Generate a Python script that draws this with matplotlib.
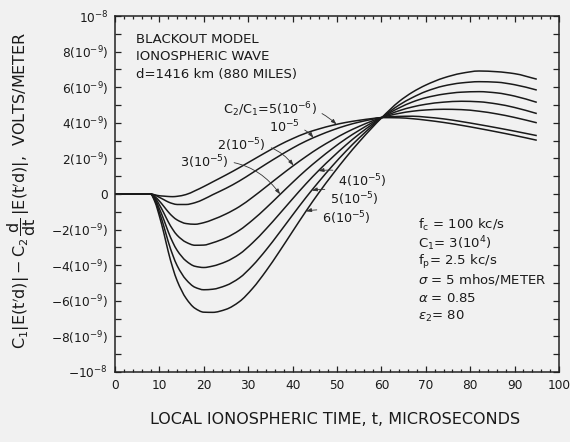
import numpy as np
import matplotlib
matplotlib.use("Agg")
import matplotlib.pyplot as plt
from matplotlib.ticker import FixedLocator, MultipleLocator
from matplotlib.path import Path
from matplotlib.patches import PathPatch

plt.rcParams['font.family'] = ['DejaVu Sans']
plt.rcParams['mathtext.fontset'] = 'dejavusans'

# time, microseconds
t = [0, 4, 7, 8, 9, 10, 11, 12, 13, 14, 16, 18, 20, 22, 25, 28, 31, 34, 37, 40,
     43, 46, 49, 52, 55, 58, 60, 64, 67, 70, 74, 78, 82, 86, 90, 95]

# values in units of 1e-9 V/m, one curve per C2/C1 ratio
c_5e6 = [0, 0, 0, 0, -0.05, -0.10, -0.12, -0.14, -0.15, -0.13, -0.03, 0.18, 0.42, 0.68,
         1.07, 1.48, 1.91, 2.34, 2.75, 3.11, 3.42, 3.66, 3.86, 4.02, 4.14, 4.24, 4.29,
         4.28, 4.23, 4.15, 4.02, 3.86, 3.68, 3.49, 3.29, 3.02]
c_1e5 = [0, 0, 0, 0, -0.07, -0.19, -0.32, -0.45, -0.54, -0.59, -0.59, -0.49, -0.29, -0.04,
         0.32, 0.73, 1.20, 1.68, 2.14, 2.58, 2.97, 3.30, 3.59, 3.84, 4.04, 4.20, 4.30,
         4.36, 4.37, 4.32, 4.22, 4.07, 3.90, 3.72, 3.53, 3.28]
c_2e5 = [0, 0, 0, 0, -0.15, -0.40, -0.70, -1.01, -1.27, -1.46, -1.66, -1.70, -1.61, -1.44,
         -1.12, -0.71, -0.18, 0.40, 0.99, 1.56, 2.10, 2.60, 3.04, 3.45, 3.80, 4.11, 4.29,
         4.53, 4.65, 4.72, 4.76, 4.74, 4.65, 4.50, 4.30, 4.00]
c_3e5 = [0, 0, 0, 0, -0.22, -0.61, -1.07, -1.57, -1.99, -2.32, -2.71, -2.88, -2.87, -2.74,
         -2.46, -2.04, -1.46, -0.79, -0.07, 0.65, 1.34, 1.97, 2.56, 3.10, 3.58, 4.02, 4.28,
         4.68, 4.89, 5.04, 5.16, 5.21, 5.18, 5.06, 4.86, 4.52]
c_4e5 = [0, 0, 0, 0, -0.30, -0.83, -1.45, -2.13, -2.71, -3.17, -3.76, -4.06, -4.13, -4.05,
         -3.80, -3.38, -2.74, -1.97, -1.13, -0.27, 0.57, 1.35, 2.07, 2.75, 3.37, 3.93, 4.28,
         4.84, 5.17, 5.41, 5.61, 5.72, 5.75, 5.68, 5.50, 5.15]
c_5e5 = [0, 0, 0, 0, -0.37, -1.04, -1.82, -2.69, -3.43, -4.03, -4.81, -5.24, -5.38, -5.35,
         -5.14, -4.72, -4.02, -3.15, -2.18, -1.18, -0.20, 0.72, 1.59, 2.40, 3.15, 3.84, 4.27,
         5.00, 5.42, 5.76, 6.07, 6.24, 6.31, 6.28, 6.14, 5.84]
c_6e5 = [0, 0, 0, 0, -0.45, -1.25, -2.20, -3.25, -4.15, -4.88, -5.86, -6.42, -6.64, -6.65,
         -6.48, -6.05, -5.30, -4.33, -3.24, -2.10, -0.97, 0.10, 1.10, 2.05, 2.93, 3.75, 4.27,
         5.20, 5.72, 6.12, 6.52, 6.78, 6.91, 6.87, 6.76, 6.45]

curves = [c_5e6, c_1e5, c_2e5, c_3e5, c_4e5, c_5e5, c_6e5]

ytick_vals = [-10, -8, -6, -4, -2, 0, 2, 4, 6, 8, 10]
ytick_labels = [r"$-$10$^{-8}$", r"$-$8(10$^{-9}$)", r"$-$6(10$^{-9}$)", r"$-$4(10$^{-9}$)",
                r"$-$2(10$^{-9}$)", "0", r"2(10$^{-9}$)", r"4(10$^{-9}$)", r"6(10$^{-9}$)",
                r"8(10$^{-9}$)", r"10$^{-8}$"]
xtick_vals = [0, 10, 20, 30, 40, 50, 60, 70, 80, 90, 100]

# curve labels: text, label position (t, v), arrow time, curve index
curve_labels = [
    (r"C$_2$/C$_1$=5(10$^{-6}$)", 24.3, 4.72, 49.9, 0),
    (r"10$^{-5}$", 34.6, 3.76, 44.7, 1),
    (r"2(10$^{-5}$)", 23.0, 2.75, 40.2, 2),
    (r"3(10$^{-5}$)", 14.6, 1.80, 37.2, 3),
    (r"4(10$^{-5}$)", 50.3, 0.73, 45.8, 4),
    (r"5(10$^{-5}$)", 48.5, -0.28, 44.3, 5),
    (r"6(10$^{-5}$)", 46.7, -1.35, 43.0, 6),
]


def smooth_path(x, y):
    """Bezier path passing through every data point (monotone cubic tangents)."""
    x = np.asarray(x, float)
    y = np.asarray(y, float)
    h = np.diff(x)
    d = np.diff(y) / h
    m = np.zeros_like(y)
    for i in range(1, len(y) - 1):
        if d[i - 1] * d[i] <= 0:
            m[i] = 0.0
        else:
            w1 = 2 * h[i] + h[i - 1]
            w2 = h[i] + 2 * h[i - 1]
            m[i] = (w1 + w2) / (w1 / d[i - 1] + w2 / d[i])
    m[0] = d[0]
    m[-1] = d[-1]
    verts = [(x[0], y[0])]
    codes = [Path.MOVETO]
    for i in range(len(h)):
        verts += [(x[i] + h[i] / 3, y[i] + m[i] * h[i] / 3),
                  (x[i + 1] - h[i] / 3, y[i + 1] - m[i + 1] * h[i] / 3),
                  (x[i + 1], y[i + 1])]
        codes += [Path.CURVE4] * 3
    return Path(verts, codes)


bg = '#f1f1f1'
ink = '#1a1a1a'
fig = plt.figure(figsize=(5.70, 4.42), dpi=100, facecolor=bg)
ax = fig.add_axes([0.2018, 0.1584, 0.7789, 0.8054], facecolor=bg)

for c in curves:
    ax.add_patch(PathPatch(smooth_path(t, c), facecolor='none', edgecolor=ink, lw=1.1,
                           joinstyle='round'))

ax.set_xlim(0, 100)
ax.set_ylim(-10, 10)
ax.xaxis.set_major_locator(FixedLocator(xtick_vals))
ax.xaxis.set_minor_locator(MultipleLocator(2))
ax.yaxis.set_major_locator(FixedLocator(ytick_vals))
ax.yaxis.set_minor_locator(MultipleLocator(1))
ax.set_yticklabels(ytick_labels)
ax.set_xticklabels([str(v) for v in xtick_vals])
ax.tick_params(axis='both', which='both', direction='in', top=True, right=True,
               color='#222222', width=0.9, labelsize=8.7, labelcolor=ink)
ax.tick_params(axis='x', which='major', length=4.5, pad=5)
ax.tick_params(axis='x', which='minor', length=2.5)
ax.tick_params(axis='y', which='both', length=4, pad=5)
for s in ax.spines.values():
    s.set_linewidth(1.1)
    s.set_color('#222222')

# header text
for i, line in enumerate(["BLACKOUT MODEL", "IONOSPHERIC WAVE", "d=1416 km (880 MILES)"]):
    ax.text(4.7, 8.7 - i * 1.0, line, fontsize=9.5, ha='left', va='center', color=ink)

# parameter text
params = [r"f$_\mathrm{c}$ = 100 kc/s", r"C$_1$= 3(10$^4$)", r"f$_\mathrm{p}$= 2.5 kc/s",
          r"$\sigma$ = 5 mhos/METER", r"$\alpha$ = 0.85", r"$\epsilon_2$= 80"]
for i, line in enumerate(params):
    ax.text(68.2, -1.74 - i * 1.03, line, fontsize=9.5, ha='left', va='center', color=ink)

# curve labels with leaders
for text, tx, ty, ta, idx in curve_labels:
    va = float(np.interp(ta, t, curves[idx]))
    rad = -0.3 if idx <= 3 else 0.2
    ax.annotate(text, xy=(ta, va), xytext=(tx, ty), fontsize=9.2, ha='left', va='center',
                color=ink,
                arrowprops=dict(arrowstyle='-|>,head_length=0.35,head_width=0.12', lw=0.6,
                                color='#333333', connectionstyle=f'arc3,rad={rad}',
                                shrinkA=2, shrinkB=0))

fig.text(335 / 570, 1 - 420 / 442, "LOCAL IONOSPHERIC TIME, t, MICROSECONDS",
         ha='center', va='center', fontsize=11.5, color=ink)
fig.text(22 / 570, 1 - 190 / 442,
         r"$\mathrm{C_1|E(t'd)|-C_2\,\dfrac{d}{dt}\,|E(t'd)|}$,  VOLTS/METER",
         ha='center', va='center', rotation=90, fontsize=11.5, color=ink)

fig.savefig("out.png", dpi=100, facecolor=bg)
